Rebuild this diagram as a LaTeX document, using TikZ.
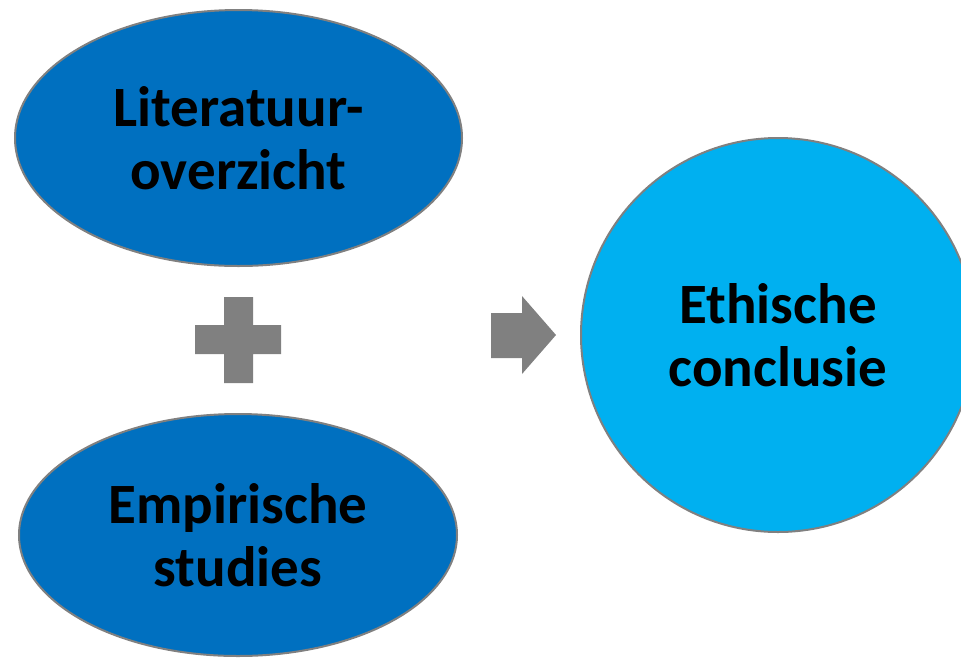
\documentclass[tikz,border=0pt]{standalone}
\usepackage{fontspec}
\setmainfont{Carlito}
\usetikzlibrary{shapes.geometric,positioning}
\definecolor{darkblue}{HTML}{0070C0}
\definecolor{lightblue}{HTML}{00B0F0}
\definecolor{shapegray}{HTML}{808080}

\begin{document}
\begin{tikzpicture}[x=1pt,y=-1pt,
    bubble/.style={draw=shapegray, line width=2pt, inner sep=0pt, align=center,
      font=\fontsize{57}{63}\selectfont\bfseries},
    source/.style={bubble, ellipse, fill=darkblue},
    result/.style={bubble, circle, fill=lightblue, minimum size=394pt}]
  \useasboundingbox (0,0) rectangle (961,657);
  % draw the two sources
  \node[source, minimum width=447pt, minimum height=256pt] (lit) at (238.5,138) {Literatuur-\\overzicht};
  \node[source, minimum width=438pt, minimum height=242pt] (emp) at (238,535) {Empirische\\studies};
  % draw the conclusion
  \node[result] (eth) at (778,335) {Ethische\\conclusie};
  % draw plus sign
  \fill[shapegray] (224,297) -- (253,297) -- (253,325) -- (281,325) -- (281,354) -- (253,354)
    -- (253,383) -- (224,383) -- (224,354) -- (195,354) -- (195,325) -- (224,325) -- cycle;
  % draw arrow
  \fill[shapegray] (491,313) -- (522,313) -- (522,296) -- (556,335) -- (522,374) -- (522,358)
    -- (491,358) -- cycle;
\end{tikzpicture}
\end{document}
